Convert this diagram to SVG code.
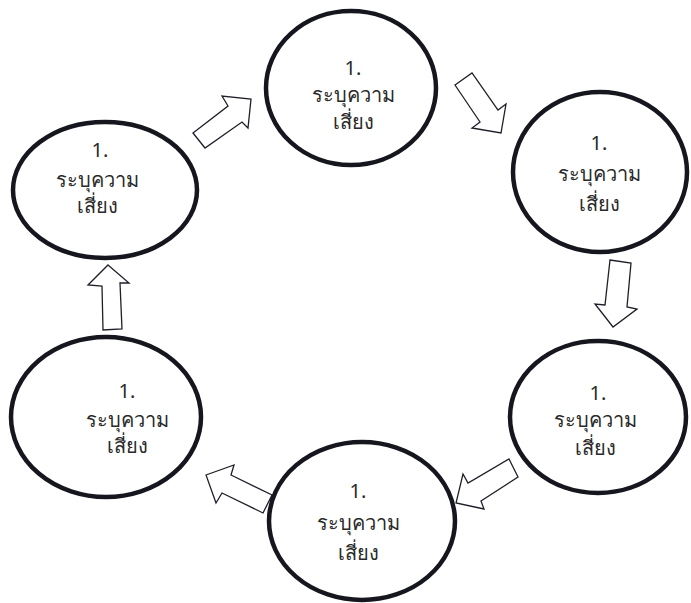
<svg xmlns="http://www.w3.org/2000/svg" width="691" height="603" viewBox="0 0 691 603">
<style>
.node ellipse{fill:#fff;stroke:#16161f;stroke-width:4.5}
.node text{font-family:"Noto Sans","DejaVu Sans","Liberation Sans",sans-serif;font-size:20px;fill:#2a2a2a;text-anchor:middle}
#connectors polygon{fill:#fff;stroke:#1f1f2a;stroke-width:1.3;stroke-linejoin:miter}
</style>
<rect width="691" height="603" fill="#fff"/>
<g id="connectors">
<polygon points="193,133 228,106 222,96 251,99 248,128 242,122 205,148"/>
<polygon points="455,85 472,73 498,110 506,104 501,133 472,128 480,122"/>
<polygon points="610,260 631,263 627,307 637,309 613,327 595,304 605,305"/>
<polygon points="509,459 518,477 481,501 484,509 456,503 463,474 468,483"/>
<polygon points="206,475 234,465 231,475 272,495 263,513 222,493 216,503"/>
<polygon points="108,265 129,283 120,283 122,329 103,330 102,286 88,285"/>
</g>
<g id="n1" class="node">
<ellipse cx="351" cy="88" rx="85" ry="77"/>
<text x="353" y="75">1.</text><text x="353" y="102">ระบุความ</text><text x="353" y="129">เสี่ยง</text>
</g>
<g id="n2" class="node">
<ellipse cx="600" cy="172" rx="87" ry="80"/>
<text x="599" y="150">1.</text><text x="599" y="181">ระบุความ</text><text x="599" y="211">เสี่ยง</text>
</g>
<g id="n3" class="node">
<ellipse cx="598" cy="417" rx="88" ry="76"/>
<text x="598" y="400">1.</text><text x="595" y="427">ระบุความ</text><text x="595" y="455">เสี่ยง</text>
</g>
<g id="n4" class="node">
<ellipse cx="362" cy="521" rx="93" ry="79"/>
<text x="358" y="498">1.</text><text x="358" y="530">ระบุความ</text><text x="358" y="560">เสี่ยง</text>
</g>
<g id="n5" class="node">
<ellipse cx="106" cy="417" rx="95" ry="80"/>
<text x="127" y="398">1.</text><text x="127" y="427">ระบุความ</text><text x="127" y="453">เสี่ยง</text>
</g>
<g id="n6" class="node">
<ellipse cx="105" cy="190" rx="92" ry="68"/>
<text x="100" y="157">1.</text><text x="97" y="187">ระบุความ</text><text x="97" y="213">เสี่ยง</text>
</g>
</svg>
